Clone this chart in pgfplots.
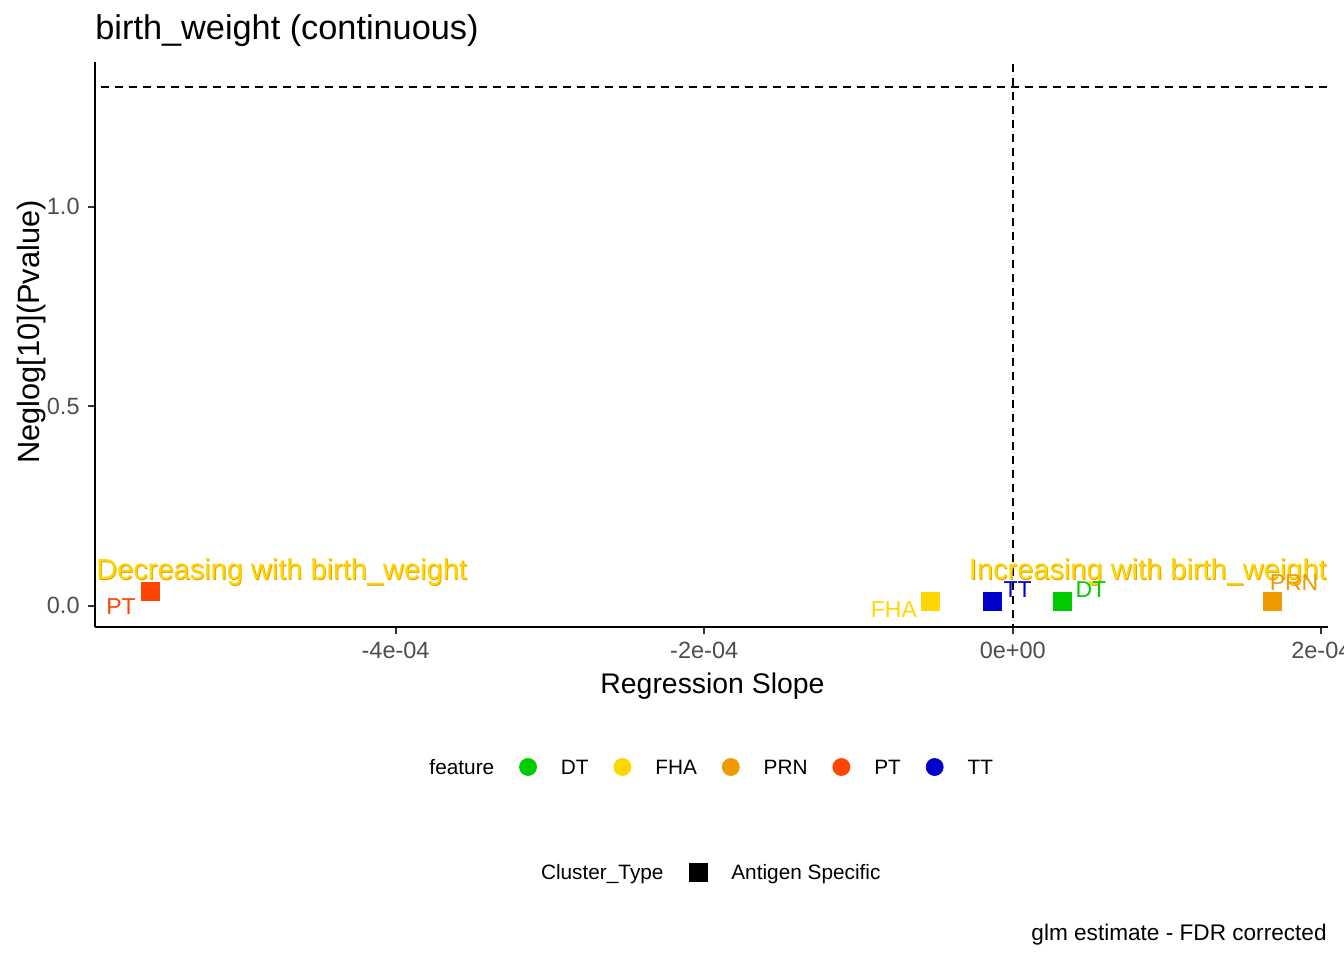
\documentclass[border=0pt]{standalone}
\usepackage{fontspec}
\setmainfont{Liberation Sans}
\usepackage{pgfplots}
\pgfplotsset{compat=1.18}
\definecolor{dtcol}{HTML}{00CD00}
\definecolor{fhacol}{HTML}{FFD700}
\definecolor{prncol}{HTML}{EE9A00}
\definecolor{ptcol}{HTML}{FF4500}
\definecolor{ttcol}{HTML}{0000CD}
\definecolor{tickgray}{HTML}{4D4D4D}
\definecolor{tickline}{HTML}{333333}
\begin{document}
\begin{tikzpicture}
\useasboundingbox (0,0) rectangle (672pt,480pt);
\begin{axis}[
  at={(47.5pt,166.65pt)}, anchor=south west,
  scale only axis, width=616.5pt, height=282.35pt,
  xmin=-5.948e-4, xmax=2.043e-4, ymin=-0.0526, ymax=1.3627,
  axis x line*=bottom, axis y line*=left,
  axis line style={-, line width=1.2pt, black},
  tick align=outside, major tick length=3.5pt,
  tick style={line width=1pt, color=tickline},
  scaled x ticks=false, scaled y ticks=false,
  xtick={-4e-4,-2e-4,0,2e-4},
  xticklabels={-4e-04,-2e-04,0e+00,2e-04},
  ytick={0,0.5,1},
  yticklabels={0.0,0.5,1.0},
  xticklabel style={font=\fontsize{11.75pt}{14pt}\selectfont, text=tickgray, inner sep=0pt, anchor=north, yshift=-4pt},
  yticklabel style={font=\fontsize{11.75pt}{14pt}\selectfont, text=tickgray, inner sep=0pt, anchor=east, xshift=-4pt},
  legend columns=-1,
  legend style={at={(0.25182,-0.24845)}, anchor=west, draw=none, fill=none,
    inner sep=0pt, outer sep=0pt,
    font=\fontsize{10.4pt}{12pt}\selectfont,
    nodes={inner sep=0pt, text height=9.6pt, text depth=2.16pt},
    /tikz/every odd column/.append style={column sep=12pt},
    /tikz/every even column/.append style={column sep=12.45pt}},
]
% significance threshold and zero line
\addplot[forget plot, black, line width=0.9pt, dash pattern=on 4pt off 3pt] coordinates {(-6e-4,1.301) (2.1e-4,1.301)};
\addplot[forget plot, black, line width=0.9pt, dash pattern=on 4pt off 3pt] coordinates {(0,-0.1) (0,1.5)};
% data points
\addplot[forget plot, only marks, mark=square*, mark size=4.5pt, color=ptcol] coordinates {(-5.588e-4,0.035)};
\addplot[forget plot, only marks, mark=square*, mark size=4.5pt, color=fhacol] coordinates {(-5.36e-5,0.010)};
\addplot[forget plot, only marks, mark=square*, mark size=4.5pt, color=ttcol] coordinates {(-1.30e-5,0.010)};
\addplot[forget plot, only marks, mark=square*, mark size=4.5pt, color=dtcol] coordinates {(3.24e-5,0.010)};
\addplot[forget plot, only marks, mark=square*, mark size=4.5pt, color=prncol] coordinates {(1.685e-4,0.010)};
% annotations
\node[anchor=base west, inner sep=0pt, text=prncol, font=\fontsize{14.5pt}{17pt}\selectfont] at (axis cs:-5.937e-4,0.063) {Decreasing with birth\_weight};
\node[anchor=base west, inner sep=0pt, text=fhacol, font=\fontsize{14.5pt}{17pt}\selectfont, xshift=-0.4pt, yshift=0.3pt] at (axis cs:-5.937e-4,0.063) {Decreasing with birth\_weight};
\node[anchor=base east, inner sep=0pt, text=prncol, font=\fontsize{14.5pt}{17pt}\selectfont] at (axis cs:2.043e-4,0.063) {Increasing with birth\_weight};
\node[anchor=base east, inner sep=0pt, text=fhacol, font=\fontsize{14.5pt}{17pt}\selectfont, xshift=-0.4pt, yshift=0.3pt] at (axis cs:2.043e-4,0.063) {Increasing with birth\_weight};
% point labels
\node[inner sep=0pt, text=ptcol, font=\fontsize{11.5pt}{13pt}\selectfont] at (axis cs:-5.779e-4,-0.0015) {PT};
\node[inner sep=0pt, text=fhacol, font=\fontsize{11.5pt}{13pt}\selectfont] at (axis cs:-7.705e-5,-0.0088) {FHA};
\node[inner sep=0pt, text=ttcol, font=\fontsize{11.5pt}{13pt}\selectfont] at (axis cs:3.11e-6,0.0393) {TT};
\node[inner sep=0pt, text=dtcol, font=\fontsize{11.5pt}{13pt}\selectfont] at (axis cs:5.06e-5,0.0406) {DT};
\node[inner sep=0pt, text=prncol, font=\fontsize{11.5pt}{13pt}\selectfont] at (axis cs:1.823e-4,0.0574) {PRN};
% legend
\addlegendimage{empty legend}\addlegendentry{feature}
\addlegendimage{legend image code/.code={\fill[dtcol] (0pt,0pt) circle (4.25pt);}}\addlegendentry{DT}
\addlegendimage{legend image code/.code={\fill[fhacol] (0pt,0pt) circle (4.25pt);}}\addlegendentry{FHA}
\addlegendimage{legend image code/.code={\fill[prncol] (0pt,0pt) circle (4.25pt);}}\addlegendentry{PRN}
\addlegendimage{legend image code/.code={\fill[ptcol] (0pt,0pt) circle (4.25pt);}}\addlegendentry{PT}
\addlegendimage{legend image code/.code={\fill[ttcol] (0pt,0pt) circle (4.25pt);}}\addlegendentry{TT}
\end{axis}
\begin{axis}[
  at={(47.5pt,166.65pt)}, anchor=south west,
  scale only axis, width=616.5pt, height=282.35pt,
  hide axis, xmin=0, xmax=1, ymin=0, ymax=1,
  legend columns=-1,
  legend style={at={(0.34225,-0.43439)}, anchor=west, draw=none, fill=none,
    inner sep=0pt, outer sep=0pt,
    font=\fontsize{10.4pt}{12pt}\selectfont,
    nodes={inner sep=0pt, text height=9.6pt, text depth=2.16pt},
    /tikz/every odd column/.append style={column sep=12pt},
    /tikz/every even column/.append style={column sep=12.5pt}},
]
\addlegendimage{empty legend}\addlegendentry{Cluster\_Type}
\addlegendimage{legend image code/.code={\fill[black] (-4.5pt,-4.5pt) rectangle (4.5pt,4.5pt);}}\addlegendentry{Antigen Specific}
\end{axis}
\node[anchor=base west, inner sep=0pt, font=\fontsize{17.15pt}{20pt}\selectfont] at (47.5pt,460pt) {birth\_weight (continuous)};
\node[anchor=base, inner sep=0pt, font=\fontsize{14.2pt}{17pt}\selectfont] at (356.25pt,133.3pt) {Regression Slope};
\node[anchor=base, inner sep=0pt, rotate=90, font=\fontsize{15.4pt}{18pt}\selectfont] at (19.65pt,314pt) {Neglog[10](Pvalue)};
\node[anchor=base east, inner sep=0pt, font=\fontsize{11.3pt}{13pt}\selectfont] at (663.5pt,10pt) {glm estimate - FDR corrected};
\end{tikzpicture}
\end{document}
